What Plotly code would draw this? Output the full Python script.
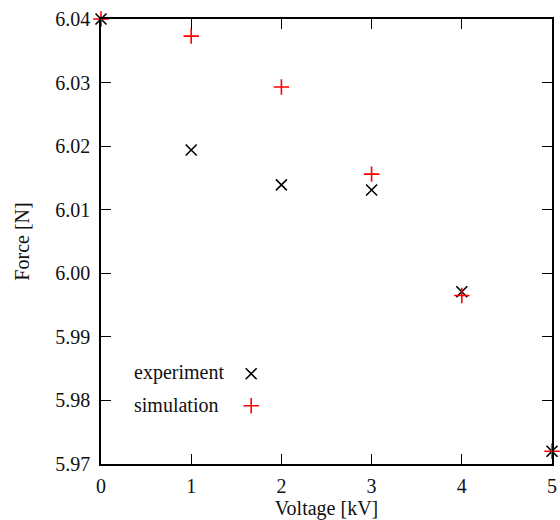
import plotly.graph_objects as go

voltage = [0, 1, 2, 3, 4, 5]
force_experiment = [6.040, 6.0194, 6.0139, 6.0131, 5.9971, 5.9720]
force_simulation = [6.040, 6.0373, 6.0293, 6.0156, 5.9965, 5.9720]
series_names = ["experiment", "simulation"]
y_ticks = [5.97, 5.98, 5.99, 6.00, 6.01, 6.02, 6.03, 6.04]
x_ticks = [0, 1, 2, 3, 4, 5]

FONT = "Liberation Serif"
BLACK = "#000000"
RED = "#ff0000"
TXT = "#111111"

fig = go.Figure()
fig.add_trace(go.Scatter(
    x=voltage, y=force_experiment, mode="markers", name=series_names[0],
    marker=dict(symbol="x-thin", size=11, line=dict(color=BLACK, width=1.6)),
    cliponaxis=False, showlegend=False))
fig.add_trace(go.Scatter(
    x=voltage, y=force_simulation, mode="markers", name=series_names[1],
    marker=dict(symbol="cross-thin", size=11, line=dict(color=RED, width=1.6)),
    cliponaxis=False, showlegend=False))

# legend keys (marker to the right of the label) on an invisible overlay axis
fig.add_trace(go.Scatter(
    x=[0.333], y=[0.2028], mode="markers", xaxis="x2", yaxis="y2",
    marker=dict(symbol="x-thin", size=11, line=dict(color=BLACK, width=1.6)),
    showlegend=False, hoverinfo="skip"))
fig.add_trace(go.Scatter(
    x=[0.333], y=[0.131], mode="markers", xaxis="x2", yaxis="y2",
    marker=dict(symbol="cross-thin", size=11, line=dict(color=RED, width=1.6)),
    showlegend=False, hoverinfo="skip"))

for name, ypos in zip(series_names, [0.2057, 0.1332]):
    fig.add_annotation(text=name, xref="paper", yref="paper", x=0.068, y=ypos,
                       xanchor="left", yanchor="middle", showarrow=False,
                       font=dict(family=FONT, size=20, color=TXT))

axis_common = dict(showgrid=False, zeroline=False, showline=True, linecolor=BLACK,
                   linewidth=1.5, mirror="ticks", ticks="inside", ticklen=10,
                   tickwidth=1.2, tickcolor=BLACK, automargin=False,
                   tickfont=dict(family=FONT, size=20, color=TXT))

fig.update_layout(
    width=560, height=520,
    margin=dict(l=101, r=8, t=19, b=56, pad=0),
    paper_bgcolor="white", plot_bgcolor="white",
    showlegend=False,
    xaxis=dict(range=[0, 5], tickvals=x_ticks, ticktext=[str(v) for v in x_ticks],
               ticklabelstandoff=3,
               title=dict(text="Voltage [kV]", font=dict(family=FONT, size=20, color=TXT),
                          standoff=2),
               **axis_common),
    yaxis=dict(range=[5.97, 6.04], tickvals=y_ticks, ticktext=[f"{v:.2f}" for v in y_ticks],
               ticklabelstandoff=5,
               title=dict(text="Force [N]", font=dict(family=FONT, size=20, color=TXT),
                          standoff=20),
               **axis_common),
    xaxis2=dict(overlaying="x", range=[0, 1], visible=False),
    yaxis2=dict(overlaying="y", range=[0, 1], visible=False),
)

fig.write_html("out.html", config={"displayModeBar": False},
               post_script="document.body.style.margin='0';document.body.style.overflow='hidden';")
